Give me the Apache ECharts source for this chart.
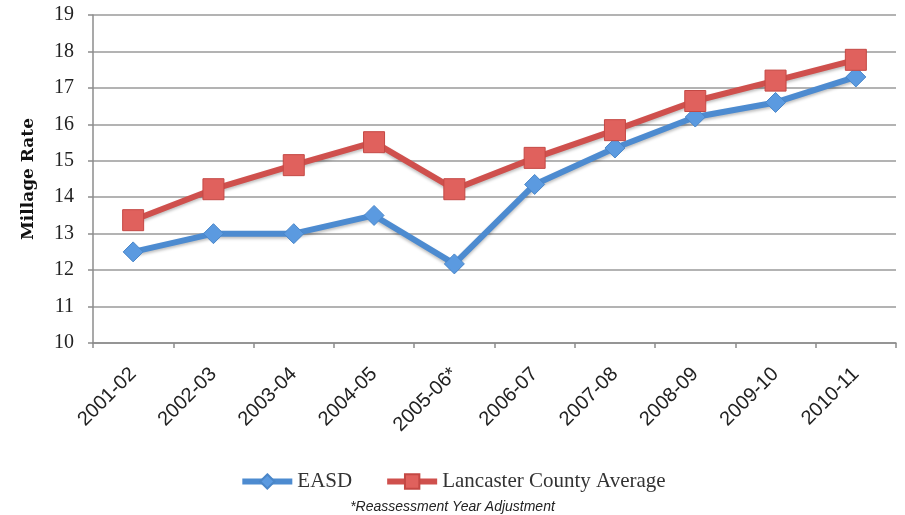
<!DOCTYPE html>
<html><head><meta charset="utf-8">
<script src="https://cdn.jsdelivr.net/npm/echarts@6/dist/echarts.min.js"></script>
<style>html,body{margin:0;padding:0;background:#fff}#c{width:905px;height:515px}</style>
</head><body><div id="c"></div>
<script>
const categories = ['2001-02','2002-03','2003-04','2004-05','2005-06*','2006-07','2007-08','2008-09','2009-10','2010-11'];
const easd = [12.5, 13.0, 13.0, 13.5, 12.17, 14.35, 15.35, 16.2, 16.6, 17.3];
const lancaster = [13.37, 14.22, 14.88, 15.51, 14.22, 15.08, 15.84, 16.64, 17.2, 17.77];
const yTicks = [10, 19, 1];

const chart = echarts.init(document.getElementById('c'));
const serif = '"Liberation Serif","DejaVu Serif",serif';
chart.setOption({
  animation: false,
  grid: {left: 93, right: 9, top: 15, bottom: 172},
  xAxis: {
    type: 'category', data: categories, boundaryGap: true,
    axisLine: {lineStyle: {color: '#8c8c8c', width: 1.5}},
    axisTick: {show: true, length: 5, lineStyle: {color: '#8c8c8c', width: 1.5}},
    axisLabel: {rotate: 45, fontFamily: '"Liberation Sans", Arial, sans-serif', fontSize: 20, color: '#222', margin: 28}
  },
  yAxis: {
    type: 'value', min: yTicks[0], max: yTicks[1], interval: yTicks[2],
    name: 'Millage Rate', nameLocation: 'middle', nameGap: 56, nameRotate: 90,
    nameTextStyle: {fontFamily: '"DejaVu Serif", serif', fontSize: 17, fontWeight: 'bold', color: '#111'},
    axisLine: {show: true, lineStyle: {color: '#8c8c8c', width: 1.5}},
    axisTick: {show: true, length: 5, lineStyle: {color: '#8c8c8c', width: 1.5}},
    axisLabel: {fontFamily: serif, fontSize: 20, color: '#222', margin: 19},
    splitLine: {lineStyle: {color: '#9a9a9a', width: 1.5}}
  },
  legend: {
    bottom: 18, left: 'center', itemWidth: 50, itemHeight: 18, itemGap: 32,
    textStyle: {fontFamily: serif, fontSize: 21, color: '#333'},
    lineStyle: {width: 6},
    data: ['EASD', 'Lancaster County Average']
  },
  graphic: [{
    type: 'text', left: 'center', bottom: 1,
    style: {text: '*Reassessment Year Adjustment', font: 'italic 14px "Liberation Sans", Arial, sans-serif', fill: '#222'}
  }],
  series: [
    {
      name: 'EASD', type: 'line', data: easd, symbol: 'diamond', symbolSize: 20,
      lineStyle: {color: '#4d8bd0', width: 6, shadowColor: 'rgba(0,0,0,0.25)', shadowBlur: 3, shadowOffsetY: 2},
      itemStyle: {color: '#5b9ae0', borderColor: '#4a86c8', borderWidth: 1}
    },
    {
      name: 'Lancaster County Average', type: 'line', data: lancaster, symbol: 'rect', symbolSize: 21,
      lineStyle: {color: '#cf504d', width: 6, shadowColor: 'rgba(0,0,0,0.25)', shadowBlur: 3, shadowOffsetY: 2},
      itemStyle: {color: '#e0615d', borderColor: '#c44844', borderWidth: 1}
    }
  ]
});
</script></body></html>
